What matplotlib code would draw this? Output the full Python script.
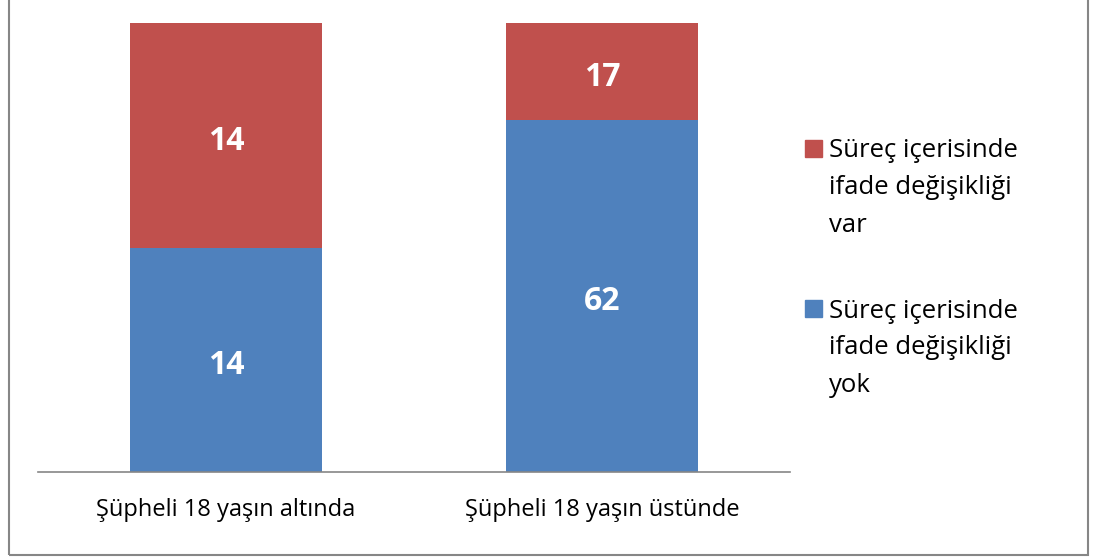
import numpy as np
import matplotlib.pyplot as plt
from matplotlib.patches import Rectangle
from matplotlib.transforms import offset_copy

categories = ['Şüpheli 18 yaşın altında', 'Şüpheli 18 yaşın üstünde']
yok_values = np.array([14, 62])   # blue, bottom
var_values = np.array([14, 17])   # red, top
series_labels = ['Süreç içerisinde\nifade değişikliği\nvar',
                 'Süreç içerisinde\nifade değişikliği\nyok']
series_colors = ['#C0504D', '#4F81BD']

plt.rcParams['font.family'] = ['Open Sans', 'DejaVu Sans']

totals = yok_values + var_values
yok_share = yok_values / totals
var_share = var_values / totals

W, H = 1096, 557
fig = plt.figure(figsize=(W/100, H/100), dpi=100)
ax = fig.add_axes([38/W, 1 - 472/H, (790 - 38)/W, (472 - 23)/H])

ind = np.arange(len(categories))
width = 0.51
b_yok = ax.bar(ind, yok_share, width, color=series_colors[1])
b_var = ax.bar(ind, var_share, width, bottom=yok_share, color=series_colors[0])

# value labels in the middle of each segment (nudged down a few pixels)
lbl_tr = offset_copy(ax.transData, fig=fig, x=0, y=-6, units='dots')
for i in ind:
    ax.text(i, yok_share[i] / 2, str(yok_values[i]), ha='center', va='center',
            color='white', fontsize=23, fontweight='bold', transform=lbl_tr)
    ax.text(i, yok_share[i] + var_share[i] / 2, str(var_values[i]), ha='center',
            va='center', color='white', fontsize=23, fontweight='bold',
            transform=lbl_tr)

ax.set_xlim(-0.5, 1.5)
ax.set_ylim(0, 1)
ax.set_yticks([])
ax.set_xticks(ind)
ax.set_xticklabels(categories, fontsize=17)
ax.tick_params(axis='x', length=0, pad=19)
for s in ['top', 'right', 'left']:
    ax.spines[s].set_visible(False)
ax.spines['bottom'].set_color('#868686')
ax.spines['bottom'].set_linewidth(1.2)

# legend drawn by hand so the square sits on the first line
leg_top = [148, 308]   # y of first line centre, pixels from top
line_gap = 37
for k in range(len(series_labels)):
    y0 = leg_top[k]
    fig.patches.append(Rectangle((805/W, 1 - (y0 + 8.5)/H), 17/W, 17/H,
                                 transform=fig.transFigure,
                                 color=series_colors[k]))
    for j, line in enumerate(series_labels[k].split('\n')):
        fig.text(829/W, 1 - (y0 + j*line_gap)/H, line, fontsize=18.5,
                 ha='left', va='center_baseline')

# chart border
fig.patches.append(Rectangle((9/W, 2/H), (1088 - 9)/W, 1.05,
                             transform=fig.transFigure, fill=False,
                             edgecolor='#868686', linewidth=1.5))

fig.savefig('out.png', dpi=100)
